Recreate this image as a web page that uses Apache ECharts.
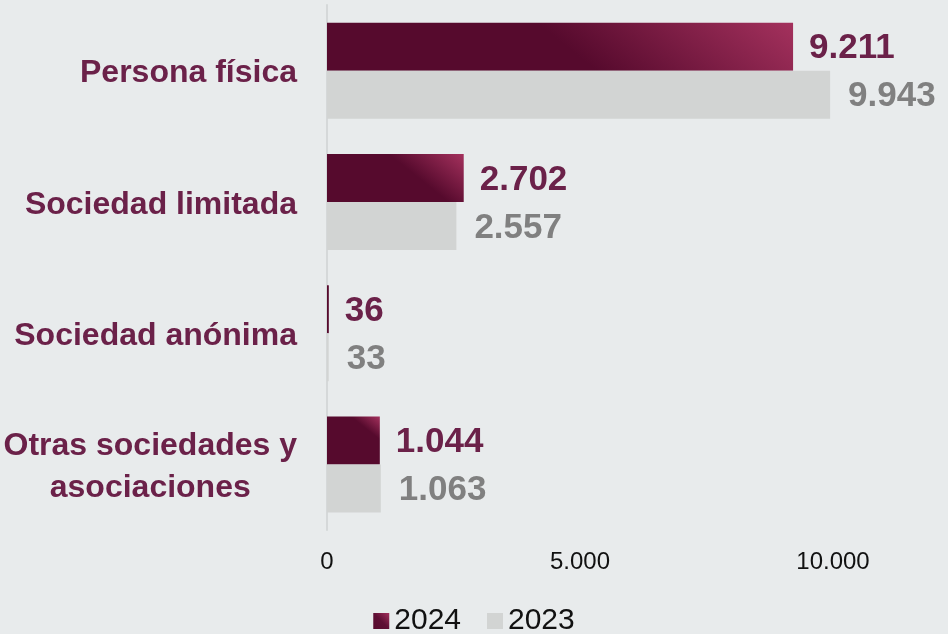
<!DOCTYPE html>
<html>
<head>
<meta charset="utf-8">
<script src="https://cdn.jsdelivr.net/npm/echarts@6/dist/echarts.min.js"></script>
<style>
  html, body { margin: 0; padding: 0; background: #e8ebec; }
  #chart { width: 948px; height: 634px; }
</style>
</head>
<body>
<div id="chart"></div>
<script>
const categories = [
  "Persona física",
  "Sociedad limitada",
  "Sociedad anónima",
  "Otras sociedades y\nasociaciones",
];
const values2024 = [9211, 2702, 36, 1044];
const values2023 = [9943, 2557, 33, 1063];
const xTicks = [0, 5000, 10000];

const FONT = "'Liberation Sans', Arial, sans-serif";
const MAROON = "#6b2149";
const DARK = "#560a2d";
const LIGHT = "#a4315d";

const GRID_LEFT = 327;
const GRID_RIGHT = 115;
const BAR_H = 48;
const pxPerUnit = (948 - GRID_LEFT - GRID_RIGHT) / xTicks[xTicks.length - 1];

// formato con punto de miles
function fmt(v) {
  return String(v).replace(/\B(?=(\d{3})+(?!\d))/g, ".");
}

// degradado diagonal: oscuro abajo-izquierda, brillo en la esquina superior derecha
function barGradient(value) {
  const w = Math.max(value * pxPerUnit, 1);
  const h = BAR_H;
  const d = 0.55 * w;
  let nx = 0.8, ny = -1;
  const len = Math.hypot(nx, ny);
  nx /= len; ny /= len;
  const sx = w - d, sy = 0;
  const t = d * nx;
  const ex = sx + t * nx, ey = sy + t * ny;
  return new echarts.graphic.LinearGradient(sx / w, sy / h, ex / w, ey / h, [
    { offset: 0, color: DARK },
    { offset: 1, color: LIGHT },
  ]);
}

const legendGrad = new echarts.graphic.LinearGradient(0, 1, 1, 0, [
  { offset: 0, color: DARK },
  { offset: 0.5, color: "#5e0f34" },
  { offset: 1, color: LIGHT },
]);

const chart = echarts.init(document.getElementById("chart"));
chart.setOption({
  backgroundColor: "#e8ebec",
  animation: false,
  grid: { left: GRID_LEFT, right: GRID_RIGHT, top: 5, bottom: 104 },
  legend: {
    left: "center",
    top: 601,
    itemWidth: 16,
    itemHeight: 16,
    itemGap: 26,
    icon: "rect",
    textStyle: { fontFamily: FONT, fontSize: 30, color: "#111" },
    data: ["2024", "2023"],
  },
  xAxis: {
    type: "value",
    min: xTicks[0],
    max: xTicks[xTicks.length - 1],
    interval: 5000,
    splitLine: { show: false },
    axisLine: { show: false },
    axisTick: { show: false },
    axisLabel: {
      margin: 20,
      fontFamily: FONT,
      fontSize: 24,
      color: "#111",
      formatter: (v) => fmt(v),
    },
  },
  yAxis: {
    type: "category",
    inverse: true,
    data: categories,
    axisLine: { show: true, lineStyle: { color: "#d5d8d9", width: 2 } },
    axisTick: { show: false },
    axisLabel: {
      margin: 30,
      formatter: (v) => "{c|" + v + "}",
      rich: {
        c: {
          fontFamily: FONT,
          fontSize: 32,
          fontWeight: "bold",
          color: MAROON,
          lineHeight: 42,
          align: "center",
          padding: [6, 0, 0, 0],
        },
      },
    },
  },
  series: [
    {
      name: "2024",
      type: "bar",
      data: values2024.map((v) => ({ value: v, itemStyle: { color: barGradient(v) } })),
      barWidth: BAR_H,
      barGap: "0%",
      itemStyle: { color: legendGrad },
      label: {
        show: true,
        position: "right",
        distance: 16,
        offset: [0, 2],
        fontFamily: FONT,
        fontSize: 35,
        fontWeight: "bold",
        color: MAROON,
        formatter: (p) => fmt(p.value),
      },
    },
    {
      name: "2023",
      type: "bar",
      data: values2023,
      barWidth: BAR_H,
      barGap: "0%",
      itemStyle: { color: "#d2d4d3" },
      label: {
        show: true,
        position: "right",
        distance: 18,
        offset: [0, 2],
        fontFamily: FONT,
        fontSize: 35,
        fontWeight: "bold",
        color: "#808080",
        formatter: (p) => fmt(p.value),
      },
    },
  ],
});
</script>
</body>
</html>
